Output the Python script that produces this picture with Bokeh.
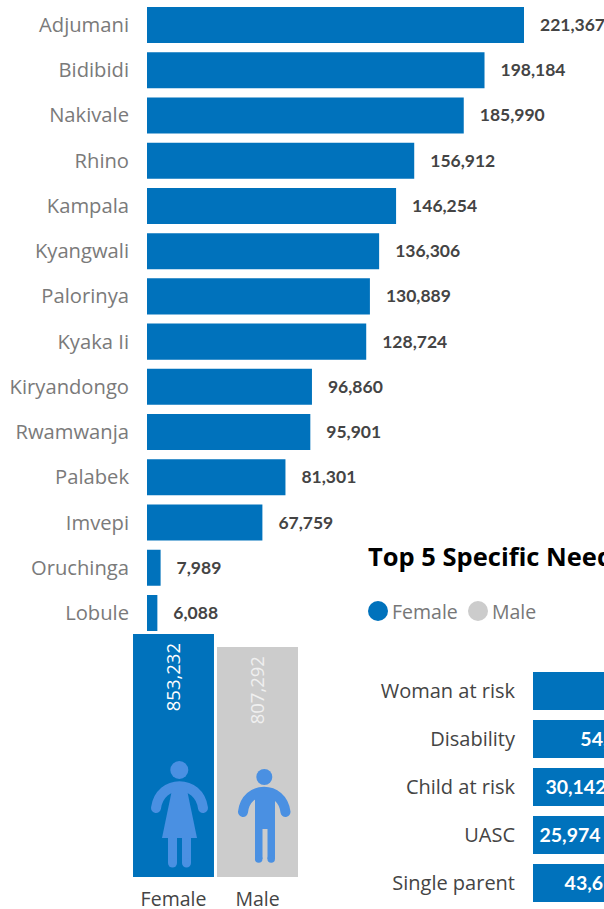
from bokeh.plotting import figure
from bokeh.models import Range1d, ColumnDataSource
from bokeh.core.properties import value
from bokeh.embed import file_html
from bokeh.resources import INLINE
import math

settlements = ["Adjumani", "Bidibidi", "Nakivale", "Rhino", "Kampala", "Kyangwali", "Palorinya",
               "Kyaka Ii", "Kiryandongo", "Rwamwanja", "Palabek", "Imvepi", "Oruchinga", "Lobule"]
settlement_values = [221367, 198184, 185990, 156912, 146254, 136306, 130889,
                     128724, 96860, 95901, 81301, 67759, 7989, 6088]

genders = ["Female", "Male"]
gender_values = [853232, 807292]

needs = ["Woman at risk", "Disability", "Child at risk", "UASC", "Single parent"]
needs_female = [85000, 54676, 30142, 25974, 43612]

title = "Top 5 Specific Needs"

BLUE = "#0072BC"
GREY = "#CCCCCC"
ICON = "#4A90E2"
W, H = 604, 909
LABEL_FONT = value("Open Sans")
NUM_FONT = value("Lato")
D = 0.5  # sub-pixel nudge of the whole drawing towards top-left

p = figure(width=W, height=H, x_range=Range1d(D, W + D), y_range=Range1d(H + D, D),
           x_axis_type=None, y_axis_type=None, toolbar_location=None,
           output_backend="svg", min_border=0, outline_line_color=None)


def xr(px0, per_px):
    """Range placing value 0 at page pixel px0, with per_px units per pixel."""
    return Range1d((D - px0) * per_px, (W + D - px0) * per_px)


k1 = settlement_values[0] / 377.0
row1 = 45.23
k2 = gender_values[0] / 243.0
k3 = needs_female[3] / 74.0
p.extra_x_ranges = {
    "top_x": xr(147, k1),
    "gen_x": xr(173.5, 1 / 84),
    "need_x": xr(533, k3),
}
p.extra_y_ranges = {
    "top_y": Range1d((H + D - 25) / row1, (D - 25) / row1),
    "gen_y": Range1d((877 - H - D) * k2, (877 - D) * k2),
    "need_y": Range1d((H + D - 691) / 48.0, (D - 691) / 48.0),
}

# top chart
s1 = ColumnDataSource(dict(y=list(range(len(settlements))), v=settlement_values, name=settlements,
                           lab=[f"{v:,}" for v in settlement_values]))
kw1 = dict(source=s1, x_range_name="top_x", y_range_name="top_y")
p.hbar(y="y", left=0, right="v", height=0.797, color=BLUE, line_color=None, **kw1)
p.text(x=0, y="y", text="name", x_offset=-18, y_offset=-1, text_align="right", text_baseline="middle",
       text_font=LABEL_FONT, text_font_size="20.2px", text_color="#7A7A7A", **kw1)
p.text(x="v", y="y", text="lab", x_offset=16, y_offset=0, text_align="left", text_baseline="middle",
       text_font=NUM_FONT, text_font_size="17.5px", text_font_style="bold", text_color="#444444", **kw1)

# gender chart
s2 = ColumnDataSource(dict(x=[0, 1], v=gender_values, name=genders, c=[BLUE, GREY],
                           lab=[f"{v:,}" for v in gender_values], tc=["#FFFFFF", "#F0F0F0"]))
kw2 = dict(source=s2, x_range_name="gen_x", y_range_name="gen_y")
p.vbar(x="x", bottom=0, top="v", width=0.964, fill_color="c", line_color=None, **kw2)
p.text(x="x", y="v", text="lab", y_offset=9, angle=math.pi / 2, text_align="right", text_baseline="middle",
       text_font=LABEL_FONT, text_font_size="18.5px", text_color="tc", **kw2)
p.text(x="x", y=0, text="name", y_offset=21, text_align="center", text_baseline="middle",
       text_font=LABEL_FONT, text_font_size="19.5px", text_color="#444444", **kw2)

# pictograms (page pixels)
p.circle(x=[179.3, 264.3], y=[770, 777], radius=[9, 8], color=ICON, line_color=None)
p.bezier(x0=[156, 243], y0=[808, 812], x1=[203, 285.5], y1=[808, 812],
         cx0=[160, 246], cy0=[779, 785], cx1=[199, 282], cy1=[779, 785],
         line_color=ICON, line_width=10, line_cap="round")
p.patch(x=[173, 186, 197, 162], y=[785, 785, 838, 838], color=ICON, line_color=None)
p.quad(left=[168, 182], right=[177, 191], top=[836, 836], bottom=[863, 863], color=ICON, line_color=None)
p.scatter(x=[172.5, 186.5], y=[863, 863], size=9, color=ICON, line_color=None)
p.quad(left=[255], right=[275], top=[790], bottom=[829], color=ICON, line_color=None)
p.quad(left=[255, 267.5], right=[262.5, 275], top=[828, 828], bottom=[859, 859], color=ICON, line_color=None)
p.scatter(x=[258.7, 271.2], y=[859, 859], size=7.5, color=ICON, line_color=None)

# right panel
p.text(x=[368], y=[556], text=[title], text_align="left", text_baseline="middle",
       text_font=LABEL_FONT, text_font_size="25.5px", text_font_style="bold", text_color="#000000")
p.circle(x=[378, 478], y=[611, 611], radius=[10, 10], color=[BLUE, GREY], line_color=None)
p.text(x=[392, 492], y=[611, 611], text=genders, text_align="left", text_baseline="middle",
       text_font=LABEL_FONT, text_font_size="19.5px", text_color="#777777")

s3 = ColumnDataSource(dict(y=list(range(len(needs))), v=needs_female, mid=[v / 2 for v in needs_female],
                           name=needs, lab=[f"{v:,}" for v in needs_female]))
kw3 = dict(source=s3, x_range_name="need_x", y_range_name="need_y")
p.hbar(y="y", left=0, right="v", height=0.79, color=BLUE, line_color=None, **kw3)
p.text(x=0, y="y", text="name", x_offset=-18, y_offset=-1, text_align="right", text_baseline="middle",
       text_font=LABEL_FONT, text_font_size="20px", text_color="#444444", **kw3)
p.text(x="mid", y="y", text="lab", text_align="center", text_baseline="middle",
       text_font=NUM_FONT, text_font_size="19.5px", text_font_style="bold", text_color="#FFFFFF", **kw3)

open("out.html", "w").write(file_html(p, INLINE))
